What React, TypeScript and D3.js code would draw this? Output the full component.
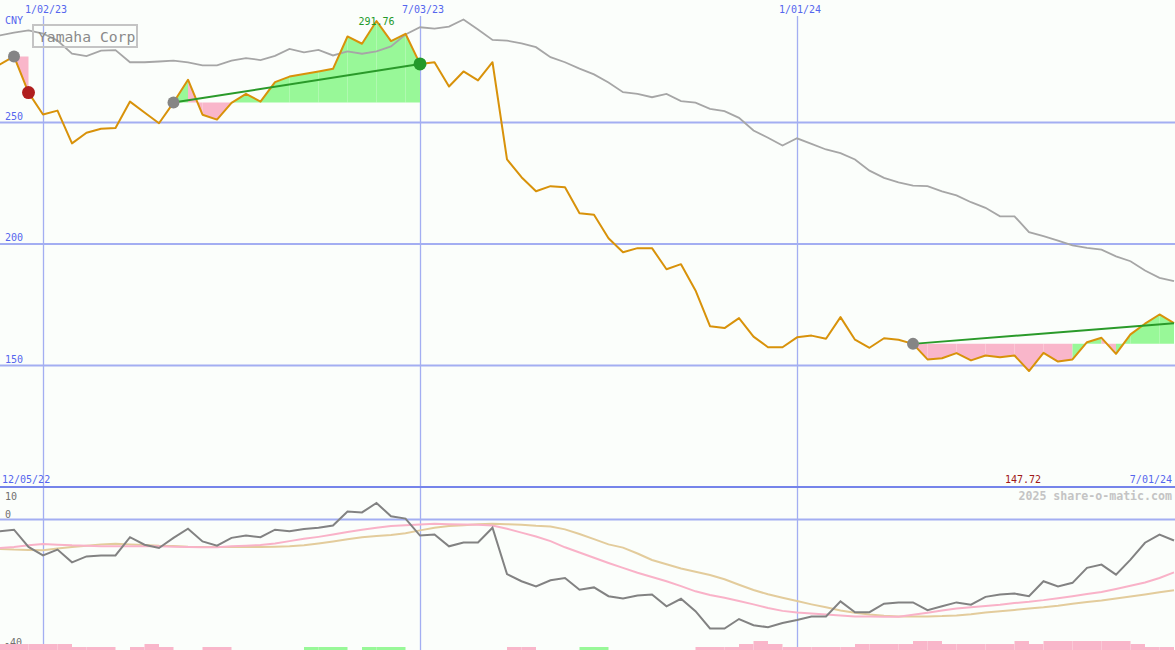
import React from "react";
import * as d3 from "d3";

const W = 1175;
const H = 650;
const START = new Date(2022, 11, 12);
const END = new Date(2024, 6, 1);

const prices = [
  273.8, 277.2, 262.3, 253.3, 254.9, 241.4, 245.8, 247.4, 247.7, 258.6,
  254.1, 249.7, 258.2, 267.6, 253.2, 251.2, 258.1, 261.8, 258.6, 266.6,
  268.9, 270.0, 271.0, 272.1, 285.4, 282.4, 291.76, 283.5, 286.5, 274.1,
  274.8, 264.8, 271.0, 267.3, 274.8, 234.8, 227.5, 221.7, 223.8, 223.4,
  212.7, 212.0, 202.4, 196.6, 198.3, 198.3, 189.6, 191.7, 180.9, 166.2,
  165.4, 169.5, 161.9, 157.5, 157.5, 161.6, 162.3, 161.0, 169.9, 160.6,
  157.3, 161.2, 160.6, 158.9, 152.5, 153.0, 155.1, 152.1, 154.1, 153.4,
  154.1, 147.72, 155.2, 151.6, 152.5, 159.6, 161.4, 154.8, 162.8, 167.2,
  171.0, 167.4,
];

const movingAvg = [
  285.8, 287.0, 287.9, 286.6, 283.7, 278.3, 277.3, 279.6, 279.8, 274.8,
  274.8, 275.1, 275.5, 274.7, 273.5, 273.5, 275.5, 276.5, 275.7, 277.4,
  280.3, 278.9, 279.9, 277.6, 279.3, 278.3, 279.3, 281.3, 286.2, 289.2,
  288.6, 289.5, 292.4, 288.3, 284.0, 283.7, 282.6, 281.0, 276.9, 274.8,
  272.2, 269.8, 266.5, 262.5, 261.8, 260.4, 261.8, 258.8, 258.2, 255.6,
  254.7, 251.9, 246.7, 243.7, 240.5, 243.5, 241.2, 238.9, 237.4, 234.8,
  230.2, 227.2, 225.4, 224.0, 223.8, 221.7, 220.0, 217.2, 214.9, 211.4,
  211.4, 204.9, 203.2, 201.4, 199.4, 198.4, 197.7, 194.9, 192.9, 189.1,
  186.1, 184.7,
];

const oscillator = [
  -3.6, -3.1, -8.4, -11.0, -9.2, -13.1, -11.3, -11.0, -11.0, -5.4,
  -7.7, -8.7, -5.6, -2.8, -6.7, -8.0, -5.6, -4.9, -5.4, -3.1,
  -3.6, -2.9, -2.5, -1.8, 2.5, 2.2, 5.1, 1.0, 0.3, -4.9,
  -4.6, -8.2, -7.0, -7.0, -2.5, -16.7, -18.9, -20.5, -18.6, -17.9,
  -21.5, -20.8, -23.5, -24.2, -23.3, -23.0, -26.6, -24.3, -28.1, -33.4,
  -33.4, -30.5, -32.4, -33.0, -31.7, -30.8, -29.7, -29.7, -25.1, -28.4,
  -28.4, -25.8, -25.4, -25.4, -27.8, -26.6, -25.4, -26.1, -23.7, -23.0,
  -22.7, -23.5, -18.9, -20.5, -19.4, -14.8, -13.8, -16.9, -12.3, -7.1,
  -4.6, -6.4,
];

const fastAvg = [
  -8.7, -8.4, -7.9, -7.5, -7.7, -7.9, -8.0, -8.2, -8.2, -8.2,
  -8.2, -8.2, -8.3, -8.4, -8.5, -8.5, -8.2, -8.0, -7.8, -7.3,
  -6.6, -5.9, -5.3, -4.6, -3.8, -3.1, -2.5, -2.0, -1.7, -1.5,
  -1.3, -1.4, -1.5, -1.6, -1.8, -2.8, -4.0, -5.2, -6.6, -8.5,
  -10.1, -11.7, -13.3, -14.8, -16.3, -17.6, -18.9, -20.4, -22.0, -23.1,
  -24.0, -25.0, -26.0, -27.1, -28.0, -28.5, -28.8, -29.1, -29.4, -29.7,
  -29.7, -29.8, -29.8, -29.2, -28.6, -27.9, -27.3, -26.9, -26.5, -26.1,
  -25.6, -25.2, -24.7, -24.1, -23.5, -22.8, -22.2, -21.3, -20.3, -19.3,
  -17.9, -16.2,
];

const slowAvg = [
  -9.0, -9.2, -9.3, -9.4, -8.9, -8.4, -8.0, -7.6, -7.4, -7.6,
  -7.8, -8.0, -8.1, -8.3, -8.4, -8.4, -8.4, -8.4, -8.4, -8.3,
  -8.2, -7.9, -7.3, -6.7, -6.0, -5.4, -5.0, -4.7, -4.2, -3.3,
  -2.5, -2.0, -1.7, -1.4, -1.3, -1.4, -1.6, -1.9, -2.1, -3.0,
  -4.4, -6.0, -7.6, -8.6, -10.4, -12.4, -13.7, -15.0, -16.0, -17.0,
  -18.3, -20.0, -21.6, -22.9, -24.0, -25.0, -26.0, -26.9, -27.9, -28.6,
  -29.1, -29.5, -29.7, -29.7, -29.7, -29.6, -29.4, -29.0, -28.5, -28.1,
  -27.7, -27.3, -26.9, -26.4, -25.8, -25.3, -24.8, -24.2, -23.6, -23.0,
  -22.3, -21.7,
];

// signed bar levels (negative = pink, positive = green), one per week
const barLevels = [
  -2, -2, -2, -2, -2, -1, -1, -1, 0, -1,
  -2, -1, 0, 0, -1, -1, 0, 0, 0, 0,
  0, 1, 1, 1, 0, 1, 1, 1, 0, 0,
  0, 0, 0, 0, 0, -1, -1, 0, 0, 0,
  1, 1, 0, 0, 0, 0, 0, 0, -1, -1,
  -1, -2, -3, -2, -1, -1, -1, -1, -1, -2,
  -2, -2, -2, -3, -3, -2, -2, -2, -2, -2,
  -3, -2, -3, -3, -3, -3, -3, -3, -2, -1,
  -1,
];

const trends = [
  { start: 1, end: 2, endDot: "#b01e1e", line: false },
  { start: 12, end: 29, endDot: "#23992a", line: true },
  { start: 63, end: 81, endDot: null as string | null, line: true },
];

const priceTicks = [150, 200, 250];
const dateTicks = [
  { date: new Date(2023, 0, 2), label: "1/02/23" },
  { date: new Date(2023, 6, 3), label: "7/03/23" },
  { date: new Date(2024, 0, 1), label: "1/01/24" },
];
const oscTicks = [
  { v: 10, label: "10", dy: 13 },
  { v: 0, label: "0", dy: -2 },
  { v: -40, label: "-40", dy: -4 },
];

const MONO = "'DejaVu Sans Mono', monospace";
const BLUE_TEXT = "#5566ee";
const GRID = "#a3aef2";

export default function App() {
  const dates = prices.map((_, i) => d3.timeDay.offset(START, 7 * i));
  const x = d3.scaleTime().domain([START, END]).range([-0.5, 1174]);
  const y = d3.scaleLinear().domain([100, 300]).range([487, 1]);
  const yo = d3.scaleLinear().domain([-40, 10]).range([650, 487]);

  const priceLine = d3
    .line<number>()
    .x((_, i) => x(dates[i]))
    .y((d) => y(d));
  const oscLine = d3
    .line<number>()
    .x((_, i) => x(dates[i]))
    .y((d) => yo(d));

  const maxIdx = d3.maxIndex(prices);
  const minIdx = d3.minIndex(prices);

  const fills: JSX.Element[] = [];
  trends.forEach((t, ti) => {
    const base = prices[t.start];
    for (let i = t.start; i < t.end; i++) {
      const x0 = x(dates[i]);
      const x1 = x(dates[i + 1]);
      const pts = [
        [x0, y(base)],
        [x0, y(prices[i])],
        [x1, y(prices[i + 1])],
        [x1, y(base)],
      ];
      const up = prices[i + 1] >= base;
      fills.push(
        <polygon
          key={`f${ti}-${i}`}
          points={pts.map((p) => p.join(",")).join(" ")}
          fill={up ? "#98f898" : "#f9b6ca"}
          stroke="none"
        />
      );
    }
  });

  return (
    <svg
      width={W}
      height={H}
      style={{ position: "absolute", left: 0, top: 0, display: "block" }}
      xmlns="http://www.w3.org/2000/svg"
    >
      <rect x={0} y={0} width={W} height={H} fill="#fbfefb" />

      {/* horizontal grid, main panel */}
      {priceTicks.map((v) => (
        <g key={`pt${v}`}>
          <line x1={0} x2={W} y1={y(v)} y2={y(v)} stroke={GRID} strokeWidth={2} />
          <text x={5} y={y(v) - 3} fontFamily={MONO} fontSize={10} fill={BLUE_TEXT}>
            {v}
          </text>
        </g>
      ))}
      <text x={5} y={24} fontFamily={MONO} fontSize={10} fill={BLUE_TEXT}>
        CNY
      </text>

      {/* vertical date grid */}
      {dateTicks.map((t) => (
        <g key={t.label}>
          <line
            x1={x(t.date) + 0.5}
            x2={x(t.date) + 0.5}
            y1={16}
            y2={H}
            stroke={GRID}
            strokeWidth={1.3}
          />
          <text
            x={x(t.date) + 3}
            y={13}
            textAnchor="middle"
            fontFamily={MONO}
            fontSize={10}
            fill={BLUE_TEXT}
          >
            {t.label}
          </text>
        </g>
      ))}

      {/* trend fills */}
      {fills}

      {/* moving average */}
      <path d={priceLine(movingAvg) || ""} fill="none" stroke="#a6a6a6" strokeWidth={1.8} />

      {/* price */}
      <path d={priceLine(prices) || ""} fill="none" stroke="#d8920a" strokeWidth={2} strokeLinejoin="round" />

      {/* trend lines and dots */}
      {trends.map((t, ti) => (
        <g key={`t${ti}`}>
          {t.line && (
            <line
              x1={x(dates[t.start])}
              y1={y(prices[t.start])}
              x2={x(dates[t.end])}
              y2={y(prices[t.end])}
              stroke="#2a9a2a"
              strokeWidth={2}
            />
          )}
          <circle cx={x(dates[t.start])} cy={y(prices[t.start])} r={6} fill="#858585" />
          {t.endDot && (
            <circle cx={x(dates[t.end])} cy={y(prices[t.end])} r={6.5} fill={t.endDot} />
          )}
        </g>
      ))}

      {/* high label */}
      <text
        x={x(dates[maxIdx])}
        y={y(prices[maxIdx]) + 4}
        textAnchor="middle"
        fontFamily={MONO}
        fontSize={10}
        fill="#23992a"
      >
        {prices[maxIdx].toFixed(2)}
      </text>

      {/* title */}
      <rect x={33} y={25} width={104} height={22} fill="none" stroke="#c4c4c4" strokeWidth={2} />
      <text x={38} y={42} fontFamily={MONO} fontSize={14.7} fill="#8a8a8a">
        Yamaha Corp
      </text>

      {/* lower panel */}
      <line x1={0} x2={W} y1={yo(0)} y2={yo(0)} stroke={GRID} strokeWidth={2} />
      <line x1={0} x2={W} y1={487} y2={487} stroke="#7584ea" strokeWidth={2} />
      <text x={2} y={483} fontFamily={MONO} fontSize={10} fill={BLUE_TEXT}>
        12/05/22
      </text>
      <text x={1172} y={483} textAnchor="end" fontFamily={MONO} fontSize={10} fill={BLUE_TEXT}>
        7/01/24
      </text>
      <text
        x={x(dates[minIdx]) - 6}
        y={483}
        textAnchor="middle"
        fontFamily={MONO}
        fontSize={10}
        fill="#a01818"
      >
        {prices[minIdx].toFixed(2)}
      </text>
      <text
        x={1172}
        y={500}
        textAnchor="end"
        fontFamily={MONO}
        fontSize={11.6}
        fontWeight="bold"
        fill="#c4c4c4"
      >
        2025 share-o-matic.com
      </text>
      {oscTicks.map((t) => (
        <text
          key={`o${t.label}`}
          x={t.v < 0 ? 4 : 5}
          y={yo(t.v) + t.dy}
          fontFamily={MONO}
          fontSize={10}
          fill="#707070"
        >
          {t.label}
        </text>
      ))}

      {/* bars */}
      {barLevels.map((lv, i) =>
        lv === 0 ? null : (
          <rect
            key={`b${i}`}
            x={x(dates[i])}
            width={x(dates[i + 1]) - x(dates[i])}
            y={H - Math.abs(lv) * 3}
            height={Math.abs(lv) * 3}
            fill={lv < 0 ? "#f9b6ca" : "#98f898"}
          />
        )
      )}

      <path d={oscLine(slowAvg) || ""} fill="none" stroke="#e3cc9c" strokeWidth={2} />
      <path d={oscLine(fastAvg) || ""} fill="none" stroke="#f9b2c8" strokeWidth={2} />
      <path d={oscLine(oscillator) || ""} fill="none" stroke="#828282" strokeWidth={2} />
    </svg>
  );
}
